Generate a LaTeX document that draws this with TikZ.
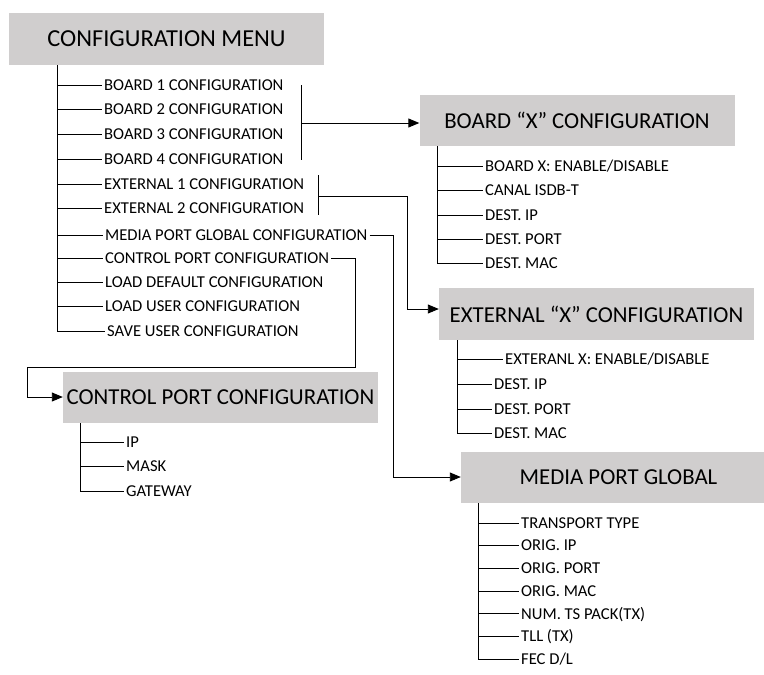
\documentclass[tikz,border=0pt]{standalone}
\usepackage{fontspec}
\setmainfont{Carlito}
\usetikzlibrary{arrows.meta}
\definecolor{boxgray}{RGB}{208,206,206}
\begin{document}
\begin{tikzpicture}[x=1pt,y=-1pt,
  box/.style={fill=boxgray, minimum width=315pt, minimum height=51pt, inner sep=0pt, font=\fontsize{22.8}{26}\selectfont},
  item/.style={anchor=west, inner xsep=2pt, inner ysep=1pt, text height=10.5pt, text depth=0pt, font=\fontsize{16.6}{19}\selectfont},
  wire/.style={line width=0.9pt},
  arr/.style={wire, -{Triangle[length=11pt,width=9pt]}}]
\useasboundingbox (0,0) rectangle (764,675);

% ---------- boxes ----------
\node[box, minimum height=52pt, font=\fontsize{24.4}{28}\selectfont] (menu) at (166.5,39) {CONFIGURATION MENU};
\node[box] (boardx) at (577,120.5) {BOARD “X” CONFIGURATION};
\node[box, minimum height=52pt] (ext) at (596.5,314) {EXTERNAL “X” CONFIGURATION};
\node[box] (ctrl) at (220.5,397.5) {CONTROL PORT CONFIGURATION};
\node[box] (media) at (618.5,477.5) {MEDIA PORT GLOBAL};

% ---------- main menu items ----------
\node[item] (m1) at (102,85) {BOARD 1 CONFIGURATION};
\node[item] (m2) at (102,109.5) {BOARD 2 CONFIGURATION};
\node[item] (m3) at (102,134) {BOARD 3 CONFIGURATION};
\node[item] (m4) at (102,159) {BOARD 4 CONFIGURATION};
\node[item] (m5) at (102,184) {EXTERNAL 1 CONFIGURATION};
\node[item] (m6) at (102,208) {EXTERNAL 2 CONFIGURATION};
\node[item] (m7) at (103,235.5) {MEDIA PORT GLOBAL CONFIGURATION};
\node[item] (m8) at (103,258) {CONTROL PORT CONFIGURATION};
\node[item] (m9) at (103,282) {LOAD DEFAULT CONFIGURATION};
\node[item] (m10) at (103,306) {LOAD USER CONFIGURATION};
\node[item] (m11) at (105,331) {SAVE USER CONFIGURATION};

\coordinate (t0) at (57,65);
\draw[wire] (t0) |- (m11.west);
\foreach \i in {1,...,10}{\draw[wire] (m\i.west -| t0) -- (m\i.west);}

% ---------- board X items ----------
\node[item] (b1) at (483,166) {BOARD X: ENABLE/DISABLE};
\node[item] (b2) at (483,190) {CANAL ISDB-T};
\node[item] (b3) at (483,215) {DEST. IP};
\node[item] (b4) at (483,239) {DEST. PORT};
\node[item] (b5) at (483,263) {DEST. MAC};
\coordinate (t1) at (437,146);
\draw[wire] (t1) |- (b5.west);
\foreach \i in {1,...,4}{\draw[wire] (b\i.west -| t1) -- (b\i.west);}

% ---------- external X items ----------
\node[item] (e1) at (503,359.5) {EXTERANL X: ENABLE/DISABLE};
\node[item] (e2) at (492,384.5) {DEST. IP};
\node[item] (e3) at (492,409) {DEST. PORT};
\node[item] (e4) at (492,433) {DEST. MAC};
\coordinate (t2) at (457,340);
\draw[wire] (t2) |- (e4.west);
\foreach \i in {1,...,3}{\draw[wire] (e\i.west -| t2) -- (e\i.west);}

% ---------- control port items ----------
\node[item] (c1) at (124,442) {IP};
\node[item] (c2) at (124,466.5) {MASK};
\node[item] (c3) at (124,491) {GATEWAY};
\coordinate (t3) at (80,423);
\draw[wire] (t3) |- (c3.west);
\foreach \i in {1,2}{\draw[wire] (c\i.west -| t3) -- (c\i.west);}

% ---------- media port items ----------
\node[item] (p1) at (519,523) {TRANSPORT TYPE};
\node[item] (p2) at (519,545.7) {ORIG. IP};
\node[item] (p3) at (519,568.4) {ORIG. PORT};
\node[item] (p4) at (519,591.1) {ORIG. MAC};
\node[item] (p5) at (519,613.8) {NUM. TS PACK(TX)};
\node[item] (p6) at (519,636.5) {TLL (TX)};
\node[item] (p7) at (519,659.2) {FEC D/L};
\coordinate (t4) at (478,503);
\draw[wire] (t4) |- (p7.west);
\foreach \i in {1,...,6}{\draw[wire] (p\i.west -| t4) -- (p\i.west);}

% ---------- connectors ----------
\coordinate (bt) at (301,85);
\coordinate (bb) at (301,160);
\coordinate (bm) at (301,123);
\draw[wire] (bt) -- (bb);
\draw[arr] (bm) -- (bm -| boardx.west);

\coordinate (et) at (318,175);
\coordinate (eb) at (318,215);
\coordinate (em) at (318,196);
\coordinate (eturn) at (407,309);
\draw[wire] (et) -- (eb);
\draw[arr] (em) -| (eturn) -- (eturn -| ext.west);

\coordinate (mturn) at (393,477);
\draw[arr] (m7.east) -| (mturn) -- (mturn -| media.west);

\coordinate (cturn1) at (355,367);
\coordinate (cturn2) at (27,397);
\draw[arr] (m8.east) -| (cturn1) -| (cturn2) -- (cturn2 -| ctrl.west);
\end{tikzpicture}
\end{document}
